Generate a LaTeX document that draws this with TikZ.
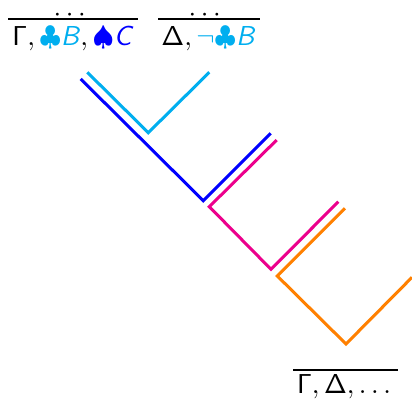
\documentclass[tikz,border=0pt]{standalone}
\usepackage{amsmath,amssymb}
\definecolor{pcyan}{RGB}{0,174,239}
\definecolor{pblue}{RGB}{0,0,255}
\definecolor{pmag}{RGB}{236,0,140}
\definecolor{porange}{RGB}{255,128,0}
\begin{document}
\begin{tikzpicture}[x=0.365pt,y=-0.365pt,
  lbl/.style={inner sep=0pt,anchor=base,font=\sffamily},
  rulel/.style={line width=0.4pt},
  vee/.style={line width=1.1pt}]
\useasboundingbox (0,0) rectangle (412,401);
% labels
\node[lbl] (t1) at (73,45) {$\mathsf{\Gamma}, {\color{pcyan}\clubsuit\textsf{\textsl{B}}}, {\color{pblue}\spadesuit\textsf{\textsl{C}}}$};
\node[lbl] (t2) at (208.5,45) {$\mathsf{\Delta}, {\color{pcyan}\neg\clubsuit\textsf{\textsl{B}}}$};
\node[lbl] (t3) at (344,393) {$\mathsf{\Gamma}, \mathsf{\Delta}, \ldots$};
\node[lbl] (d1) at (72,21.5) {$\cdots$};
\node[lbl] (d2) at (207,21.5) {$\cdots$};
% rules
\draw[rulel] (8.3,19) -- (138.3,19);
\draw[rulel] (158.3,19) -- (260,19);
\draw[rulel] (293.3,370) -- (398.3,370);
% vees
\draw[vee,pcyan] (87.3,72.3) -- (148.3,132.7) -- (209.3,72.3);
\draw[vee,pblue] (80.7,79) -- (203.3,200.7) -- (270.7,133.3);
\draw[vee,pmag] (276.7,140) -- (209.3,206.7) -- (271,269.3) -- (338.3,201.7);
\draw[vee,porange] (345,208.3) -- (277.3,276) -- (346,344) -- (412,277.3);
\end{tikzpicture}
\end{document}
